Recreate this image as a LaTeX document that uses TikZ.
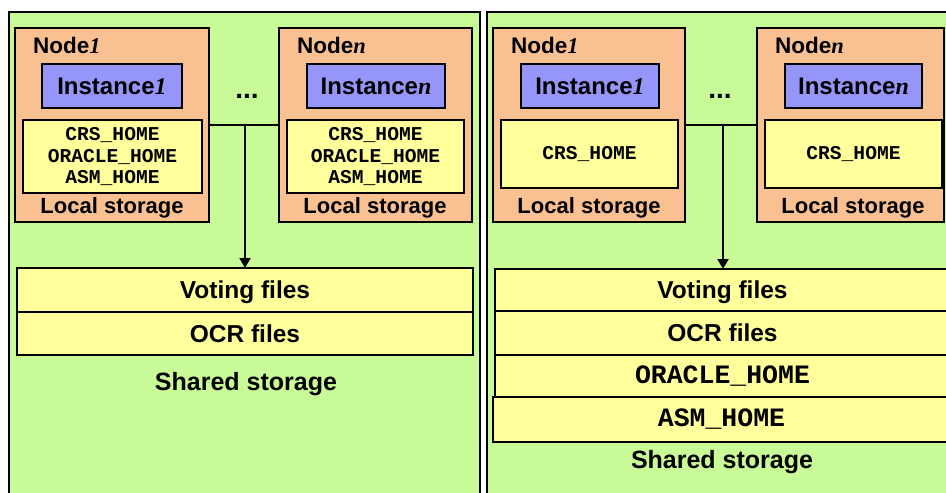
\documentclass[tikz,border=0pt]{standalone}
\usepackage{fontspec}
\setmainfont{Liberation Sans}
\setmonofont{Liberation Mono}
\newfontfamily\serfam{Liberation Serif}
\usetikzlibrary{arrows.meta}
\definecolor{cgreen}{RGB}{201,250,152}
\definecolor{corange}{RGB}{249,193,146}
\definecolor{cblue}{RGB}{150,150,250}
\definecolor{cyellow}{RGB}{255,255,155}
\newcommand\numI{{\serfam\bfseries\itshape 1}}
\newcommand\numN{{\serfam\bfseries\itshape n}}
\begin{document}
\begin{tikzpicture}[x=1pt,y=-1pt,
  boxbase/.style={draw=black, line width=2pt, rectangle, inner sep=0pt, outer sep=0pt, anchor=north west},
  panel/.style={boxbase, fill=cgreen},
  hostbox/.style={boxbase, fill=corange},
  instbox/.style={boxbase, fill=cblue, font=\fontsize{24}{26}\selectfont\bfseries},
  localbox/.style={boxbase, fill=cyellow, align=center, font=\fontsize{19.6}{21.5}\selectfont\ttfamily\bfseries},
  sharedbox/.style={boxbase, fill=cyellow, text depth=0pt, font=\fontsize{24.5}{26}\selectfont\bfseries},
  sharedmono/.style={boxbase, fill=cyellow, font=\fontsize{26.5}{28}\selectfont\ttfamily\bfseries},
  hostlabel/.style={anchor=base west, inner sep=0pt, font=\fontsize{22.5}{24}\selectfont\bfseries},
  loclabel/.style={anchor=base, inner sep=0pt, font=\fontsize{22}{24}\selectfont\bfseries},
  sharelabel/.style={anchor=center, inner sep=0pt, font=\fontsize{25}{26}\selectfont\bfseries},
  dotslabel/.style={anchor=center, inner sep=0pt, font=\fontsize{28}{30}\selectfont\bfseries},
  conn/.style={draw=black, line width=2pt},
  arrowconn/.style={conn, -{Triangle[width=11pt,length=10pt]}}
]
\useasboundingbox (0,0) rectangle (946,493);
\clip (0,0) rectangle (946,493);
\fill[white] (0,0) rectangle (946,493);

% ---------- left panel ----------
\node[panel, minimum width=471pt, minimum height=510pt] (panL) at (9,12) {};

\node[hostbox, minimum width=194pt, minimum height=194pt] (n1L) at (15,28) {};
\node[hostlabel] (n1Lt) at (33,53) {Node\numI};
\node[instbox, minimum width=140pt, minimum height=44pt] (i1L) at (42,64) {Instance\numI};
\node[localbox, minimum width=179pt, minimum height=73pt] (y1L) at (23,120) {CRS\_HOME\\ORACLE\_HOME\\ASM\_HOME};
\node[loclabel] (l1L) at (112,213) {Local storage};

\node[hostbox, minimum width=193pt, minimum height=194pt] (nNL) at (279,28) {};
\node[hostlabel] (nNLt) at (297,53) {Node\numN};
\node[instbox, minimum width=138pt, minimum height=44pt] (iNL) at (307,64) {Instance\numN};
\node[localbox, minimum width=177pt, minimum height=73pt] (yNL) at (287,120) {CRS\_HOME\\ORACLE\_HOME\\ASM\_HOME};
\node[loclabel] (lNL) at (375,213) {Local storage};

\node[dotslabel] (dotsL) at (247,96) {...};

\node[sharedbox, minimum width=456pt, minimum height=44pt] (voteL) at (17,268) {Voting files};
\node[sharedbox, minimum width=456pt, minimum height=43pt] (ocrL) at (17,312) {OCR files};
\node[sharelabel] (shL) at (246,384) {Shared storage};

\coordinate (jL) at (245,125);
\draw[conn] (n1L.east |- jL) -- (nNL.west |- jL);
\draw[arrowconn] (jL) -- (voteL.north -| jL);

% ---------- right panel ----------
\node[panel, minimum width=480pt, minimum height=510pt] (panR) at (487,12) {};

\node[hostbox, minimum width=192pt, minimum height=194pt] (n1R) at (493,28) {};
\node[hostlabel] (n1Rt) at (511,53) {Node\numI};
\node[instbox, minimum width=138pt, minimum height=44pt] (i1R) at (521,64) {Instance\numI};
\node[localbox, minimum width=177pt, minimum height=68pt] (y1R) at (501,120) {CRS\_HOME};
\node[loclabel] (l1R) at (589,213) {Local storage};

\node[hostbox, minimum width=187pt, minimum height=194pt] (nNR) at (757,28) {};
\node[hostlabel] (nNRt) at (775,53) {Node\numN};
\node[instbox, minimum width=137pt, minimum height=44pt] (iNR) at (785,64) {Instance\numN};
\node[localbox, minimum width=177pt, minimum height=68pt] (yNR) at (765,120) {CRS\_HOME};
\node[loclabel] (lNR) at (853,213) {Local storage};

\node[dotslabel] (dotsR) at (720,96) {...};

\node[sharedbox, minimum width=455pt, minimum height=42pt] (voteR) at (495,269) {Voting files};
\node[sharedbox, minimum width=455pt, minimum height=44pt] (ocrR) at (495,311) {OCR files};
\node[sharedmono, minimum width=455pt, minimum height=42pt] (oraR) at (495,355) {ORACLE\_HOME};
\node[sharedmono, minimum width=457pt, minimum height=45pt] (asmR) at (493,397) {ASM\_HOME};
\node[sharelabel] (shR) at (722,462) {Shared storage};

\coordinate (jR) at (723,125);
\draw[conn] (n1R.east |- jR) -- (nNR.west |- jR);
\draw[arrowconn] (jR) -- (voteR.north -| jR);
\end{tikzpicture}
\end{document}
